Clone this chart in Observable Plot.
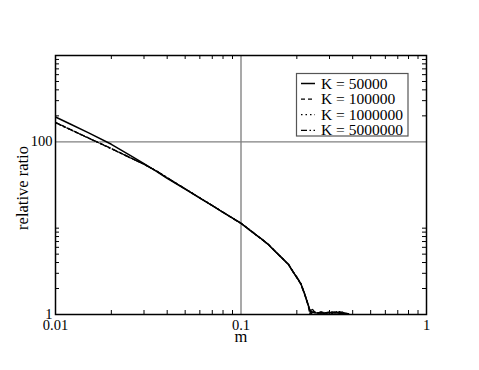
<!DOCTYPE html>
<html><head><meta charset="utf-8">
<script src="https://cdn.jsdelivr.net/npm/d3@7"></script>
<script src="https://cdn.jsdelivr.net/npm/@observablehq/plot@0.6"></script>
<style>body{margin:0;background:#fff}</style>
</head><body><div id="chart"></div>
<script>
// ---- data ----
const m = [0.01, 0.012, 0.015, 0.02, 0.025, 0.03, 0.035, 0.04, 0.05, 0.06, 0.07, 0.08, 0.09, 0.1,
  0.11, 0.12, 0.13, 0.14, 0.15, 0.16, 0.17, 0.18, 0.19, 0.2, 0.21, 0.22, 0.225, 0.23, 0.235, 0.24,
  0.245, 0.25, 0.26, 0.27, 0.28, 0.29, 0.3, 0.31, 0.32, 0.33, 0.34, 0.35, 0.36, 0.37, 0.38];
const k50000 = [194, 160.7, 127.7, 93.7, 70.6, 56.0, 45.6, 37.8, 28.4, 22.3, 18.2, 15.2, 13.1, 11.4,
  9.7, 8.4, 7.4, 6.5, 5.6, 4.9, 4.3, 3.8, 3.15, 2.7, 2.28, 1.75, 1.5, 1.3, 1.13, 1.08,
  1.06, 1.05, 1.04, 1.06, 1.03, 1.05, 1.04, 1.07, 1.04, 1.05, 1.03, 1.04, 1.03, 1.02, 1.02];
const k100000 = [168, 139.5, 111.5, 83.6, 66.4, 55.0, 46.0, 38.3, 28.5, 22.4, 18.3, 15.3, 13.0, 11.35,
  9.8, 8.45, 7.35, 6.55, 5.65, 4.85, 4.3, 3.85, 3.2, 2.65, 2.25, 1.72, 1.48, 1.28, 1.02, 1.18,
  1.12, 1.06, 1.05, 1.03, 1.06, 1.04, 1.08, 1.05, 1.07, 1.04, 1.08, 1.05, 1.04, 1.03, 1.02];
const k1000000 = [166, 138.5, 110.8, 83.2, 66.0, 54.8, 46.1, 38.4, 28.6, 22.5, 18.3, 15.3, 13.1, 11.4,
  9.75, 8.4, 7.4, 6.5, 5.6, 4.9, 4.32, 3.8, 3.18, 2.7, 2.3, 1.76, 1.52, 1.32, 1.08, 1.0,
  1.04, 1.07, 1.04, 1.05, 1.03, 1.06, 1.05, 1.03, 1.06, 1.08, 1.04, 1.06, 1.03, 1.02, 1.01];
const k5000000 = [167, 139, 111, 83.4, 66.2, 54.9, 46.1, 38.4, 28.6, 22.4, 18.3, 15.3, 13.1, 11.4,
  9.73, 8.42, 7.37, 6.5, 5.61, 4.89, 4.3, 3.82, 3.17, 2.69, 2.29, 1.74, 1.5, 1.31, 1.12, 1.02,
  1.1, 1.05, 1.04, 1.07, 1.05, 1.04, 1.06, 1.04, 1.05, 1.06, 1.05, 1.07, 1.04, 1.03, 1.02];
const seriesNames = ["K = 50000", "K = 100000", "K = 1000000", "K = 5000000"];
const seriesValues = [k50000, k100000, k1000000, k5000000];
const seriesDash = [null, "4,3", "1.5,3", "6,2.5,1.5,2.5"];

const xTicks = [0.01, 0.1, 1];
const xTickLabels = ["0.01", "0.1", "1"];
const yTicks = [1, 100];
const yTickLabels = ["1", "100"];
const xMinor = [0.02,0.03,0.04,0.05,0.06,0.07,0.08,0.09,0.2,0.3,0.4,0.5,0.6,0.7,0.8,0.9];
const yMinor = [2,3,4,5,6,7,8,9,10,200,300,400,500,600,700,800,900];
const xGrid = [0.1];
const yGrid = [100];
const xLabel = "m";
const yLabel = "relative ratio";

// ---- layout ----
const W = 479, H = 370, mL = 55, mR = 53, mT = 55, mB = 56;
const innerW = W - mL - mR, innerH = H - mT - mB;
const font = "'Liberation Serif', 'DejaVu Serif', serif";

const rows = seriesNames.flatMap((name, s) => m.map((x, i) => ({m: x, ratio: seriesValues[s][i], K: name})));

const lineMarks = seriesNames.map((name, s) =>
  Plot.line(rows.filter(r => r.K === name), {
    x: "m", y: "ratio", stroke: "black",
    strokeWidth: s === 0 ? 1.5 : 1.3,
    strokeDasharray: seriesDash[s], clip: true
  }));

const chart = Plot.plot({
  width: W, height: H,
  marginLeft: mL, marginRight: mR, marginTop: mT, marginBottom: mB,
  style: {fontFamily: font, fontSize: "14.5px", background: "white", color: "black"},
  x: {type: "log", domain: [0.01, 1]},
  y: {type: "log", domain: [1, 1000]},
  marks: [
    Plot.ruleX(xGrid, {stroke: "#707070", strokeWidth: 1.2}),
    Plot.ruleY(yGrid, {stroke: "#808080", strokeWidth: 1.2}),
    Plot.ruleX(xMinor, {stroke: "black", insetTop: innerH - 4}),
    Plot.ruleX(xMinor, {stroke: "black", insetBottom: innerH - 4}),
    Plot.ruleY(yMinor, {stroke: "black", insetRight: innerW - 4}),
    Plot.ruleY(yMinor, {stroke: "black", insetLeft: innerW - 4}),
    ...lineMarks,
    Plot.frame({stroke: "black", strokeWidth: 1.5}),
    Plot.axisX(xTicks, {tickSize: 0, tickPadding: 5, label: null, fontSize: 14.5,
      tickFormat: d => xTickLabels[xTicks.indexOf(d)]}),
    Plot.axisY(yTicks, {tickSize: 0, tickPadding: 3, label: null, fontSize: 14.5,
      tickFormat: d => yTickLabels[yTicks.indexOf(d)]}),
    Plot.text([xLabel], {frameAnchor: "bottom", dy: 27, lineAnchor: "bottom", textAnchor: "middle", fontSize: 16.5}),
    Plot.text([yLabel], {frameAnchor: "left", rotate: -90, dx: -28, dy: 3, lineAnchor: "bottom", textAnchor: "middle", fontSize: 16.5})
  ]
});

// ---- legend ----
const svg = d3.select(chart);
const lg = svg.append("g").attr("font-family", font).attr("font-size", 15.5).attr("text-anchor", "start");
lg.append("rect").attr("x", 296.5).attr("y", 73.5).attr("width", 111.5).attr("height", 62.5)
  .attr("fill", "white").attr("stroke", "#555").attr("stroke-width", 1.2);
seriesNames.forEach((name, s) => {
  const yy = 83.5 + s * 15.6;
  lg.append("line").attr("x1", 301).attr("x2", 315).attr("y1", yy).attr("y2", yy)
    .attr("stroke", "black").attr("stroke-width", s === 0 ? 1.5 : 1.3)
    .attr("stroke-dasharray", seriesDash[s]);
  lg.append("text").attr("x", 321).attr("y", yy + 5).attr("fill", "black")
    .attr("text-anchor", "start").style("white-space", "pre").text(name);
});

document.getElementById("chart").appendChild(chart);
</script>
</body></html>
